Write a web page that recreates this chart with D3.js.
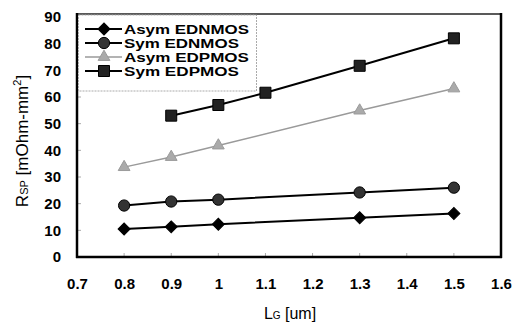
<!DOCTYPE html>
<html><head><meta charset="utf-8">
<script src="https://cdn.jsdelivr.net/npm/d3@7"></script>
<style>body{margin:0;background:#fff}</style>
</head><body>
<svg id="chart" width="520" height="326"></svg>
<script>
const xTicks = [0.7, 0.8, 0.9, 1.0, 1.1, 1.2, 1.3, 1.4, 1.5, 1.6];
const yTicks = [0, 10, 20, 30, 40, 50, 60, 70, 80, 90];
const seriesNames = ["Asym EDNMOS", "Sym EDNMOS", "Asym EDPMOS", "Sym EDPMOS"];
const asymNX = [0.8, 0.9, 1.0, 1.3, 1.5];
const asymNY = [10.5, 11.3, 12.3, 14.7, 16.3];
const symNX = [0.8, 0.9, 1.0, 1.3, 1.5];
const symNY = [19.3, 20.8, 21.5, 24.2, 26.0];
const asymPX = [0.8, 0.9, 1.0, 1.3, 1.5];
const asymPY = [33.7, 37.5, 41.8, 54.9, 63.2];
const symPX = [0.9, 1.0, 1.1, 1.3, 1.5];
const symPY = [53.0, 57.0, 61.6, 71.7, 82.0];

const svg = d3.select("#chart");
const L = 77, R = 501, T = 17, B = 257;
const x = d3.scaleLinear().domain([0.7, 1.6]).range([L, R]);
const y = d3.scaleLinear().domain([0, 90]).range([B, T]);
const font = "'Liberation Sans', Arial, sans-serif";

// tick labels
const xa = svg.append("g").attr("transform", `translate(0,${B})`)
  .call(d3.axisBottom(x).tickValues(xTicks).tickSize(0).tickPadding(21)
    .tickFormat(d => d3.format("~g")(d)));
const ya = svg.append("g").attr("transform", `translate(${L},0)`)
  .call(d3.axisLeft(y).tickValues(yTicks).tickSize(0).tickPadding(16));
[xa, ya].forEach(g => {
  g.select(".domain").remove();
  g.selectAll("text").attr("font-family", font).attr("font-size", 15)
    .attr("font-weight", "bold").attr("fill", "#000");
});

// short inside tick marks
svg.append("g").selectAll("line").data(yTicks.slice(1, -1)).join("line")
  .attr("x1", L).attr("x2", L + 4).attr("y1", d => y(d)).attr("y2", d => y(d))
  .attr("stroke", "#aaa").attr("stroke-width", 1);
svg.append("g").selectAll("line").data(xTicks.slice(1, -1)).join("line")
  .attr("y1", B).attr("y2", B - 4).attr("x1", d => x(d)).attr("x2", d => x(d))
  .attr("stroke", "#aaa").attr("stroke-width", 1);

// plot frame
svg.append("line").attr("x1", L).attr("x2", R).attr("y1", 14).attr("y2", 14)
  .attr("stroke", "#222").attr("stroke-width", 1.5);
svg.append("line").attr("x1", L).attr("x2", L).attr("y1", 13).attr("y2", B + 1)
  .attr("stroke", "#000").attr("stroke-width", 2.5);
svg.append("line").attr("x1", R).attr("x2", R).attr("y1", 13).attr("y2", B + 1)
  .attr("stroke", "#000").attr("stroke-width", 2.5);
svg.append("line").attr("x1", L - 1).attr("x2", R + 1).attr("y1", B).attr("y2", B)
  .attr("stroke", "#000").attr("stroke-width", 2.5);

// marker shapes
const diamond = d3.symbol(d3.symbolSquare, 72);
const styles = [
  {xs: asymNX, ys: asymNY, color: "#000", sym: diamond, rot: 45, w: 2, fill: "#000"},
  {xs: symNX, ys: symNY, color: "#000", sym: d3.symbol(d3.symbolCircle, 100), rot: 0, w: 2, fill: "#333"},
  {xs: asymPX, ys: asymPY, color: "#9a9a9a", sym: d3.symbol(d3.symbolTriangle, 60), rot: 0, w: 1.5, fill: "#aaa"},
  {xs: symPX, ys: symPY, color: "#000", sym: d3.symbol(d3.symbolSquare, 121), rot: 0, w: 2, fill: "#222"}
];
const line = d3.line().x(d => x(d[0])).y(d => y(d[1]));
styles.forEach(s => {
  const pts = s.xs.map((v, i) => [v, s.ys[i]]);
  svg.append("path").datum(pts).attr("d", line).attr("fill", "none")
    .attr("stroke", s.color).attr("stroke-width", s.w);
  svg.append("g").selectAll("path").data(pts).join("path")
    .attr("transform", d => `translate(${x(d[0])},${y(d[1])}) rotate(${s.rot})`)
    .attr("d", s.sym).attr("fill", s.fill)
    .attr("stroke", s.color).attr("stroke-width", 1);
});

// legend
const legendLen = [125, 115, 125, 115];
const lg = svg.append("g");
lg.append("rect").attr("x", L + 1.5).attr("y", 15).attr("width", 178).attr("height", 76)
  .attr("fill", "#fff").attr("stroke", "#aaa").attr("stroke-width", 1).attr("stroke-dasharray", "2,1");
seriesNames.forEach((name, i) => {
  const s = styles[i], yy = 29 + i * 14;
  lg.append("line").attr("x1", 85).attr("x2", 122).attr("y1", yy).attr("y2", yy)
    .attr("stroke", s.color).attr("stroke-width", s.w);
  lg.append("path").attr("transform", `translate(104,${yy}) rotate(${s.rot})`)
    .attr("d", s.sym).attr("fill", s.fill)
    .attr("stroke", s.color).attr("stroke-width", 1);
  lg.append("text").attr("x", 124).attr("y", yy + 5).text(name)
    .attr("font-family", font).attr("font-size", 13).attr("font-weight", "bold")
    .attr("textLength", legendLen[i]).attr("lengthAdjust", "spacingAndGlyphs");
});

// axis titles
const yt = svg.append("text").attr("transform", "translate(28,141) rotate(-90)")
  .attr("text-anchor", "middle").attr("font-family", font).attr("font-size", 17);
yt.append("tspan").text("R");
yt.append("tspan").attr("font-size", 11).text("SP");
yt.append("tspan").text(" [mOhm-mm");
yt.append("tspan").attr("font-size", 11).attr("dy", -7).text("2");
yt.append("tspan").attr("dy", 7).text("]");

const xt = svg.append("text").attr("x", 290).attr("y", 319)
  .attr("text-anchor", "middle").attr("font-family", font).attr("font-size", 16);
xt.append("tspan").text("L");
xt.append("tspan").attr("font-size", 10).text("G");
xt.append("tspan").text(" [um]");
</script>
</body></html>
